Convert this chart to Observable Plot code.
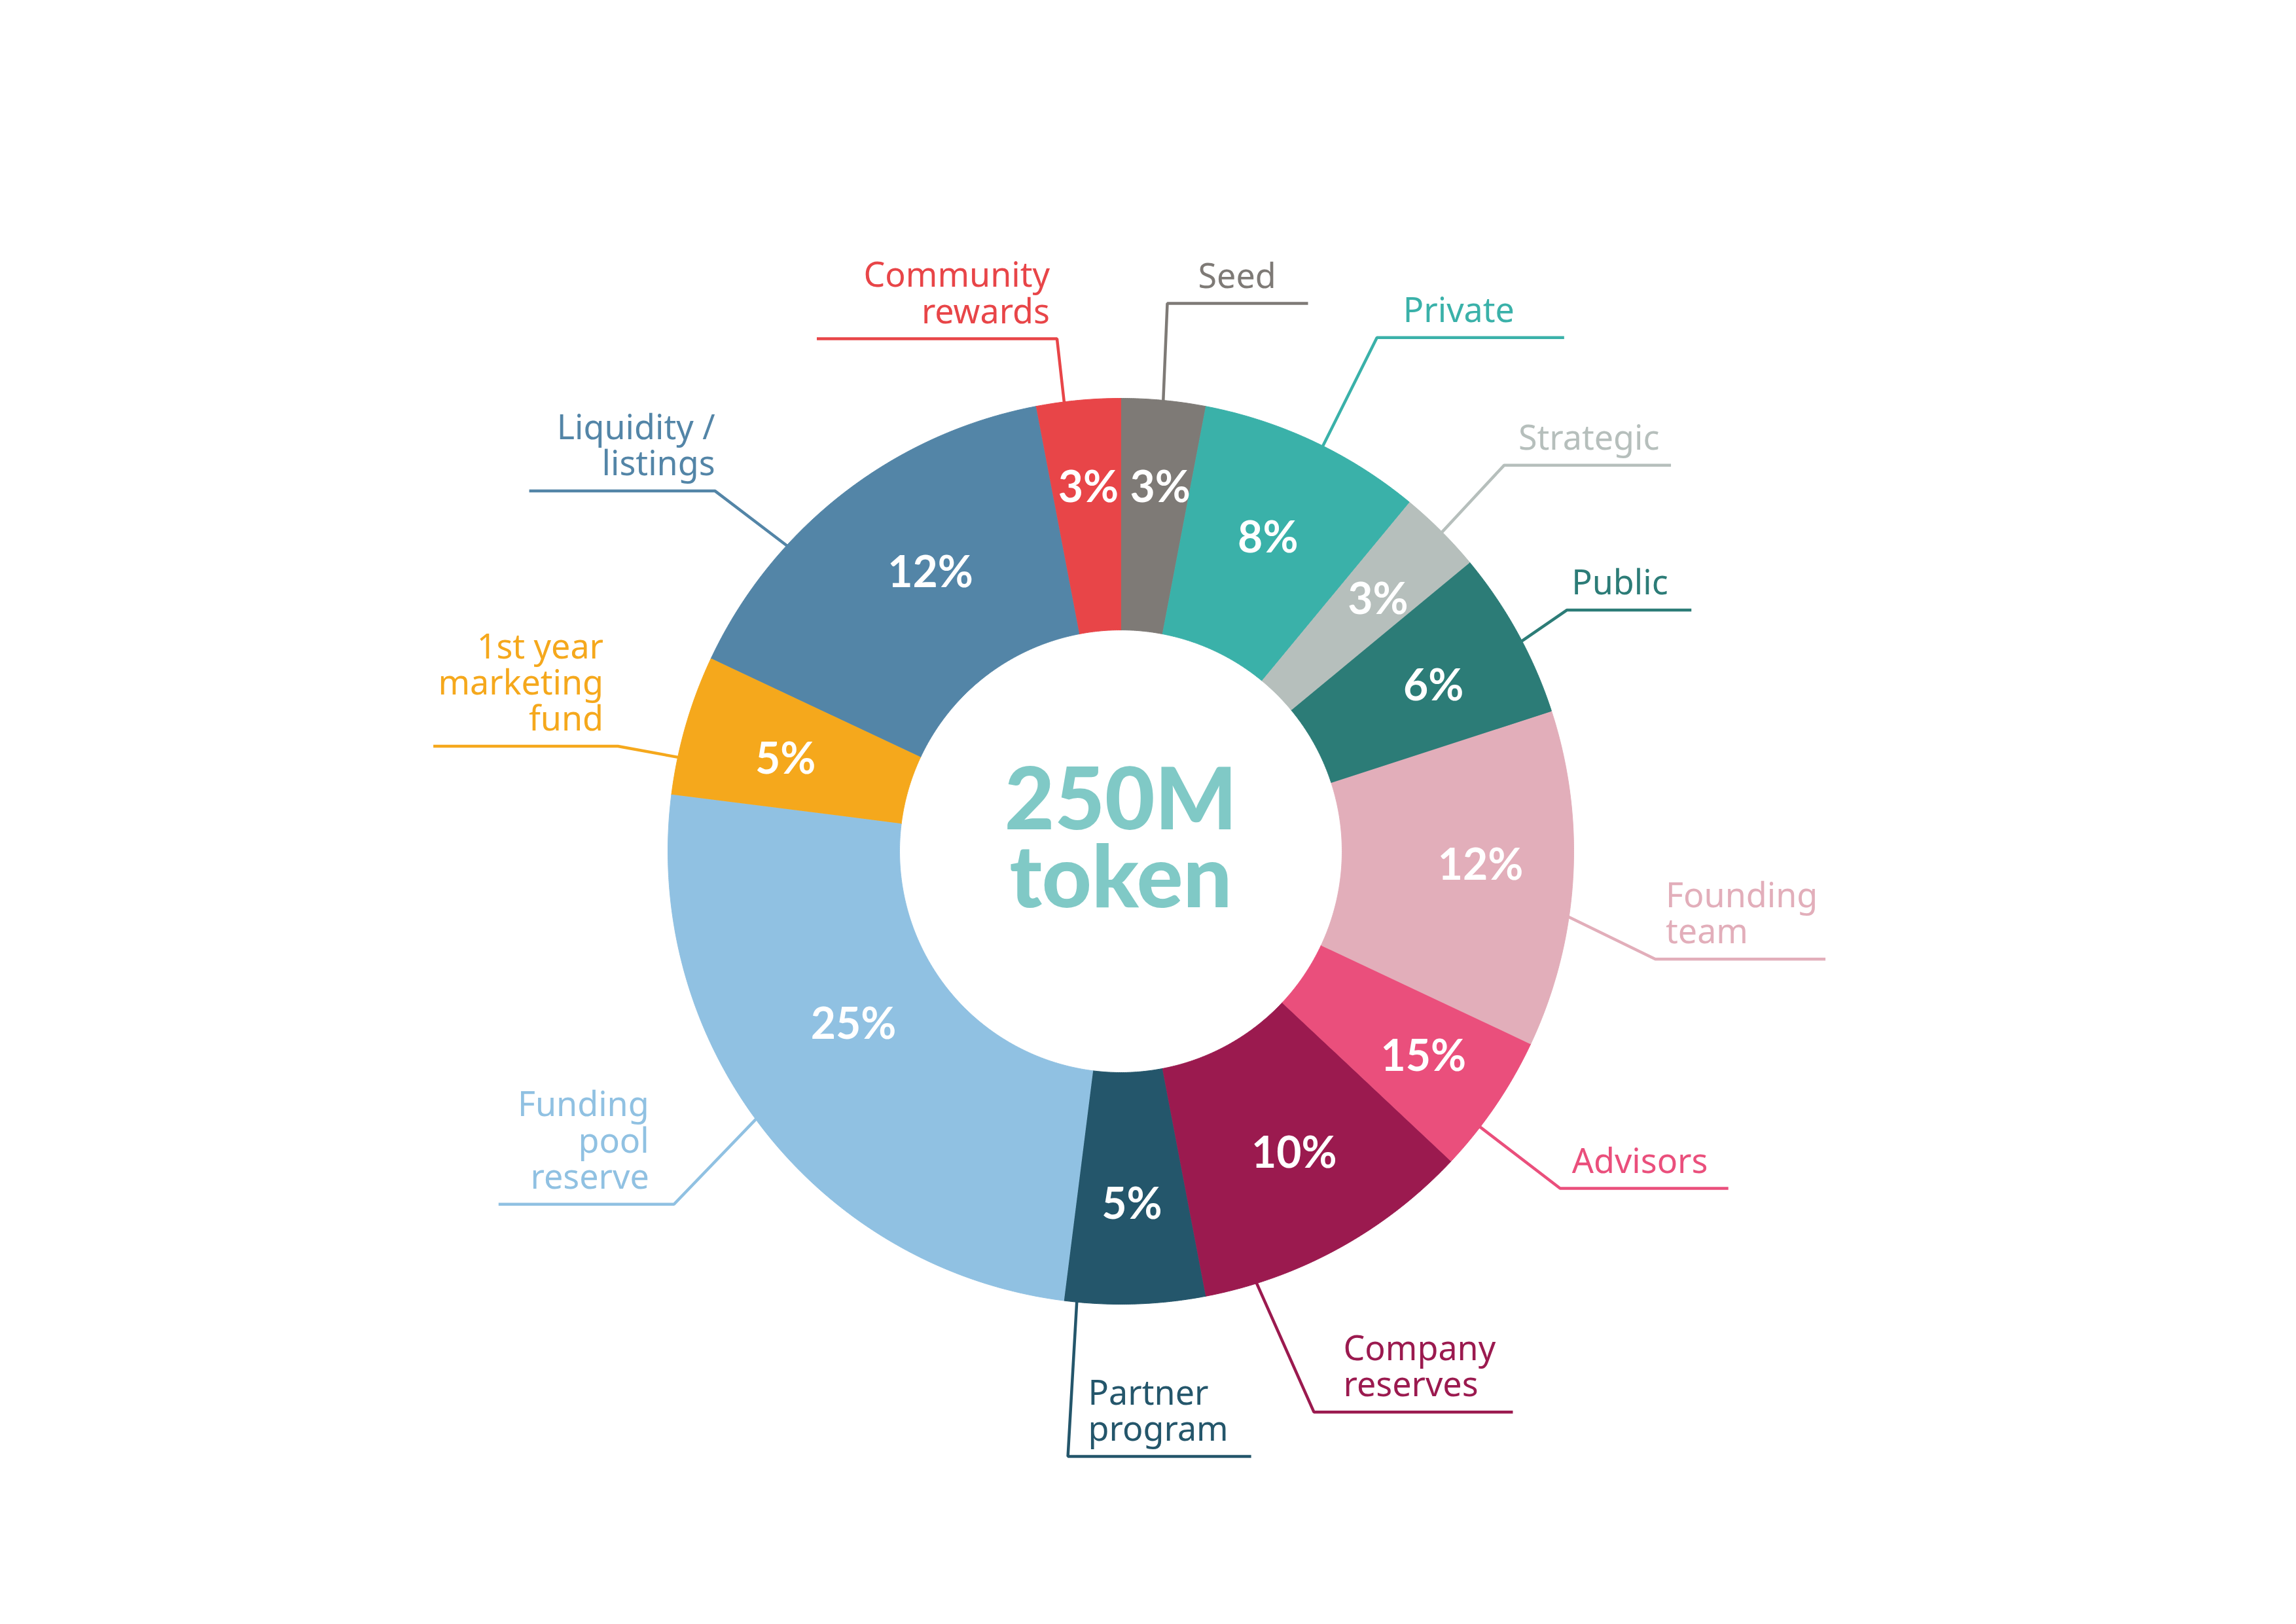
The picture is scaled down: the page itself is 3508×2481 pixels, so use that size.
<!DOCTYPE html>
<html>
<head>
<meta charset="utf-8">
<script src="https://cdn.jsdelivr.net/npm/d3@7"></script>
<script src="https://cdn.jsdelivr.net/npm/@observablehq/plot@0.6"></script>
<style>
  html, body { margin: 0; padding: 0; background: #ffffff; }
  #chart svg { display: block; }
</style>
</head>
<body>
<div id="chart"></div>
<script>
// ---------- data (clockwise from 12 o'clock) ----------
const categories = ["Seed", "Private", "Strategic", "Public", "Founding team", "Advisors",
  "Company reserves", "Partner program", "Funding pool reserve", "1st year marketing fund",
  "Liquidity / listings", "Community rewards"];
const values = [3, 8, 3, 6, 12, 5, 10, 5, 25, 5, 15, 3];           // slice sizes
const valueLabels = ["3%", "8%", "3%", "6%", "12%", "15%", "10%", "5%", "25%", "5%", "12%", "3%"]; // printed text
const labelLines = ["Seed", "Private", "Strategic", "Public", "Founding\nteam", "Advisors",
  "Company\nreserves", "Partner\nprogram", "Funding\npool\nreserve", "1st year\nmarketing\nfund",
  "Liquidity /\nlistings", "Community\nrewards"];
const colors = ["#7e7a76", "#3ab1a9", "#b6bfbc", "#2c7c77", "#e2aeba", "#ea4f7c",
  "#9b1a4f", "#24566b", "#90c1e2", "#f5a81c", "#5385a7", "#e84548"];
const centerText = "250M\ntoken";

// ---------- layout ----------
const W = 3508, H = 2481;
const cx = 1712, cy = 1300, R = 692, r0 = 338;
const pctRadius     = [558, 528, 549, 540, 550, 559, 533, 541, 487, 531, 515, 557];
const pctAngleShift = [0.8, 0, 0.7, 1, -1.3, 0, -1, 0, 4.8, -1, 3.4, 0.3];
const leaderStartDeg = [5.4, 26.5, 45.2, 62.4, 98.2, 127.5, 162.6, 185.6, 233.8, 282, 312.5, 352.8];
const leaderElbowDeg = [4.85, 26.5, 44.8, 61.6, 101.4, 127.5, 161, 185, 231.7, 281.8, 311.6, 352.9];
const leaderElbowR  = [840, 877, 831, 775, 833, 846, 906, 928, 870, 785, 829, 789];
const armLength     = [215, 286, 255, 190, 260, 257, 304, 280, -268, -282, -284, -367];
const textOffset    = [47, 40, 22, 7, 16, 18, 45, 31, -38, -22, 0, -11];
const textGap = 24;

const rad = d => d * Math.PI / 180;
const px = (a, r) => cx + r * Math.sin(a);
const py = (a, r) => cy - r * Math.cos(a);

// slices as polygons
const arcs = d3.pie().sort(null).value(d => d)(values);
const slicePts = [];
arcs.forEach((a, i) => {
  const n = Math.max(2, Math.ceil((a.endAngle - a.startAngle) / (Math.PI / 720)));
  for (let k = 0; k <= n; k++) {
    const t = a.startAngle + (a.endAngle - a.startAngle) * k / n;
    slicePts.push({name: categories[i], x: px(t, R), y: py(t, R)});
  }
  for (let k = n; k >= 0; k--) {
    const t = a.startAngle + (a.endAngle - a.startAngle) * k / n;
    slicePts.push({name: categories[i], x: px(t, r0), y: py(t, r0)});
  }
});

// percentage labels
const pctData = arcs.map((a, i) => {
  const m = (a.startAngle + a.endAngle) / 2 + rad(pctAngleShift[i]);
  return {name: categories[i], text: valueLabels[i], x: px(m, pctRadius[i]), y: py(m, pctRadius[i])};
});

// leader lines and category labels
const leaderPts = [];
const labelData = [];
categories.forEach((c, i) => {
  const a0 = rad(leaderStartDeg[i]), a1 = rad(leaderElbowDeg[i]);
  const ex = px(a1, leaderElbowR[i]), ey = py(a1, leaderElbowR[i]);
  leaderPts.push({name: c, x: px(a0, R - 6), y: py(a0, R - 6)});
  leaderPts.push({name: c, x: ex, y: ey});
  leaderPts.push({name: c, x: ex + armLength[i], y: ey});
  labelData.push({name: c, text: labelLines[i], x: ex + textOffset[i], y: ey - textGap, right: armLength[i] > 0});
});

const labelStyle = {fontFamily: "Noto Sans", fontSize: 52, lineHeight: 1.06, lineAnchor: "bottom"};

const chart = Plot.plot({
  width: W, height: H, margin: 0,
  x: {domain: [0, W], range: [0, W], axis: null},
  y: {domain: [0, H], range: [0, H], axis: null},
  color: {domain: categories, range: colors},
  style: {background: "#ffffff"},
  marks: [
    Plot.line(leaderPts, {x: "x", y: "y", z: "name", stroke: "name", strokeWidth: 4.5,
      strokeLinejoin: "miter", strokeLinecap: "butt"}),
    Plot.line(slicePts, {x: "x", y: "y", z: "name", fill: "name", stroke: "name", strokeWidth: 1}),
    Plot.text(pctData, {x: "x", y: "y", text: "text", fill: "#ffffff", fontFamily: "Lato",
      fontWeight: 700, fontSize: 66}),
    Plot.text(labelData.filter(d => d.right), {x: "x", y: "y", text: "text", fill: "name",
      textAnchor: "start", ...labelStyle}),
    Plot.text(labelData.filter(d => !d.right), {x: "x", y: "y", text: "text", fill: "name",
      textAnchor: "end", ...labelStyle}),
    Plot.text([{text: centerText, x: cx, y: cy}], {x: "x", y: "y", text: "text", dy: -12,
      fill: "#80c9c6", fontFamily: "Lato", fontWeight: 900, fontSize: 132, lineHeight: 0.9})
  ]
});
document.getElementById("chart").appendChild(chart);
</script>
</body>
</html>
